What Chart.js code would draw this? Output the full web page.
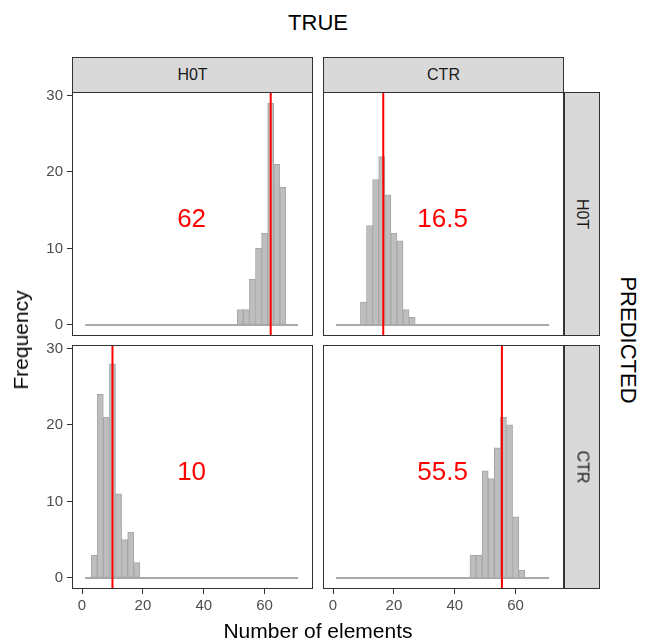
<!DOCTYPE html>
<html>
<head>
<meta charset="utf-8">
<script src="https://cdn.jsdelivr.net/npm/chart.js@4.4.1/dist/chart.umd.min.js"></script>
<style>
  body { margin: 0; background: #fff; font-family: "Liberation Sans", Arial, sans-serif; }
  #father { position: relative; width: 646px; height: 639px; overflow: hidden; background: #fff; }
  canvas { position: absolute; }
  .strip { position: absolute; box-sizing: border-box; background: #d9d9d9; border: 1px solid #333;
           color: #1a1a1a; font-size: 16px; display: flex; align-items: center; justify-content: center; }
  .strip.side span { transform: rotate(90deg); white-space: nowrap; }
  .lab { position: absolute; color: #000; white-space: nowrap; transform: translate(-50%, -50%); }
</style>
</head>
<body>
<div id="father"></div>
<script>
// facet labels
const trueLabels = ['H0T', 'CTR'];
const predLabels = ['H0T', 'CTR'];

// histogram bins (centre of each 2-wide bin) and counts, per panel
const hotHotCenters = [52, 54, 56, 58, 60, 62, 64, 66];
const hotHotCounts  = [2, 2, 6, 10, 12, 29, 21, 18];
const ctrHotCenters = [10, 12, 14, 16, 18, 20, 22, 24, 26];
const ctrHotCounts  = [3, 13, 19, 22, 17, 12, 11, 2, 1];
const hotCtrCenters = [4, 6, 8, 10, 12, 14, 16, 18];
const hotCtrCounts  = [3, 24, 21, 28, 11, 5, 6, 2];
const ctrCtrCenters = [46, 48, 50, 52, 54, 56, 58, 60, 62];
const ctrCtrCounts  = [3, 3, 14, 13, 17, 21, 20, 8, 1];

// medians (red lines + label)
const medians = [62, 16.5, 10, 55.5];
const medianText = ['62', '16.5', '10', '55.5'];

// empty bins drawn as baseline from first to last bin edge
const binRange = [1, 71];
const xTicks = [0, 20, 40, 60];
const yTicks = [0, 10, 20, 30];
const xLimits = [-3.3, 75.9];
const yLimits = [-1.45, 30.45];
const labelPos = [36, 13.7];

let div = document.getElementById('father');

function addLabel(text, x, y, size, rot) {
  let d = document.createElement('div');
  d.className = 'lab';
  d.style.left = x + 'px';
  d.style.top = y + 'px';
  d.style.fontSize = size + 'px';
  if (rot) d.style.transform = 'translate(-50%, -50%) rotate(' + rot + 'deg)';
  d.textContent = text;
  div.appendChild(d);
}

const borderPlugin = {
  id: 'panelBorder',
  afterDraw(chart) {
    let a = chart.chartArea;
    let ctx = chart.ctx;
    ctx.save();
    ctx.strokeStyle = '#333333';
    ctx.lineWidth = 1;
    ctx.strokeRect(a.left + 0.5, a.top + 0.5, a.right - a.left - 1, a.bottom - a.top - 1);
    ctx.restore();
  }
};

const medianLabelPlugin = {
  id: 'medianLabel',
  afterDatasetsDraw(chart, args, opts) {
    let ctx = chart.ctx;
    ctx.save();
    ctx.font = '26px "Liberation Sans", Arial, sans-serif';
    ctx.fillStyle = '#ff0000';
    ctx.textAlign = 'center';
    ctx.textBaseline = 'middle';
    ctx.fillText(opts.text, chart.scales.x.getPixelForValue(labelPos[0]), chart.scales.y.getPixelForValue(labelPos[1]));
    ctx.restore();
  }
};

function makePanel(row, col, centers, counts, idx) {
  let canvas = document.createElement('canvas');
  let left = col == 0 ? 12 : 313;
  let top = row == 0 ? 82 : 335;
  let width = col == 0 ? 311 : 261;
  let height = row == 0 ? 264 : 290;
  canvas.width = width;
  canvas.height = height;
  canvas.style.left = left + 'px';
  canvas.style.top = top + 'px';
  canvas.style.width = width + 'px';
  canvas.style.height = height + 'px';
  div.appendChild(canvas);

  let tickFont = { family: '"Liberation Sans", Arial, sans-serif', size: 15 };

  new Chart(canvas.getContext('2d'), {
    type: 'bar',
    data: {
      datasets: [
        {
          type: 'line',
          data: [{ x: medians[idx], y: yLimits[0] - 1 }, { x: medians[idx], y: yLimits[1] + 1 }],
          borderColor: '#ff0000',
          borderWidth: 2,
          pointRadius: 0,
          order: 1
        },
        {
          type: 'bar',
          data: centers.map((c, i) => ({ x: c, y: counts[i] })),
          backgroundColor: '#bebebe',
          borderColor: '#a6a6a6',
          borderWidth: 1,
          borderSkipped: false,
          barPercentage: 1,
          categoryPercentage: 1,
          order: 2
        },
        {
          type: 'line',
          data: [{ x: binRange[0], y: 0 }, { x: binRange[1], y: 0 }],
          borderColor: '#a9a9a9',
          borderWidth: 2,
          pointRadius: 0,
          order: 3
        }
      ]
    },
    options: {
      responsive: false,
      animation: false,
      devicePixelRatio: 1,
      layout: {
        autoPadding: false,
        padding: {
          top: 10,
          right: 10,
          left: col == 0 ? 0 : 10,
          bottom: row == 0 ? 10 : 0
        }
      },
      plugins: {
        legend: { display: false },
        tooltip: { enabled: false },
        medianLabel: { text: medianText[idx] }
      },
      scales: {
        x: {
          type: 'linear',
          display: row == 1,
          min: xLimits[0],
          max: xLimits[1],
          offset: false,
          afterBuildTicks: s => { s.ticks = xTicks.map(v => ({ value: v })); },
          afterFit: s => { s.height = row == 1 ? 36 : 0; s.paddingLeft = 0; s.paddingRight = 0; },
          grid: { drawOnChartArea: false, drawTicks: true, tickLength: 5, color: '#333333', tickColor: '#333333', offset: false },
          border: { display: false },
          ticks: { color: '#4d4d4d', font: tickFont, padding: 3, maxRotation: 0 }
        },
        y: {
          type: 'linear',
          display: col == 0,
          min: yLimits[0],
          max: yLimits[1],
          afterBuildTicks: s => { s.ticks = yTicks.map(v => ({ value: v })); },
          afterFit: s => { s.width = col == 0 ? 60 : 0; s.paddingTop = 0; s.paddingBottom = 0; },
          grid: { drawOnChartArea: false, drawTicks: true, tickLength: 5, color: '#333333', tickColor: '#333333' },
          border: { display: false },
          ticks: { color: '#4d4d4d', font: tickFont, padding: 4 }
        }
      }
    },
    plugins: [borderPlugin, medianLabelPlugin]
  });
}

makePanel(0, 0, hotHotCenters, hotHotCounts, 0);
makePanel(0, 1, ctrHotCenters, ctrHotCounts, 1);
makePanel(1, 0, hotCtrCenters, hotCtrCounts, 2);
makePanel(1, 1, ctrCtrCenters, ctrCtrCounts, 3);

// strips
const colLeft = [72, 323];
const rowTop = [92, 345];
trueLabels.forEach((t, i) => {
  let s = document.createElement('div');
  s.className = 'strip';
  s.style.left = colLeft[i] + 'px';
  s.style.top = '57px';
  s.style.width = '241px';
  s.style.height = '36px';
  s.innerHTML = '<span>' + t + '</span>';
  div.appendChild(s);
});
predLabels.forEach((t, i) => {
  let s = document.createElement('div');
  s.className = 'strip side';
  s.style.left = '564px';
  s.style.top = rowTop[i] + 'px';
  s.style.width = '36px';
  s.style.height = '244px';
  s.innerHTML = '<span>' + t + '</span>';
  div.appendChild(s);
});

addLabel('TRUE', 318, 23, 22, 0);
addLabel('PREDICTED', 628, 340, 22, 90);
addLabel('Frequency', 21, 340, 21, -90);
addLabel('Number of elements', 318, 631, 21, 0);
</script>
</body>
</html>
